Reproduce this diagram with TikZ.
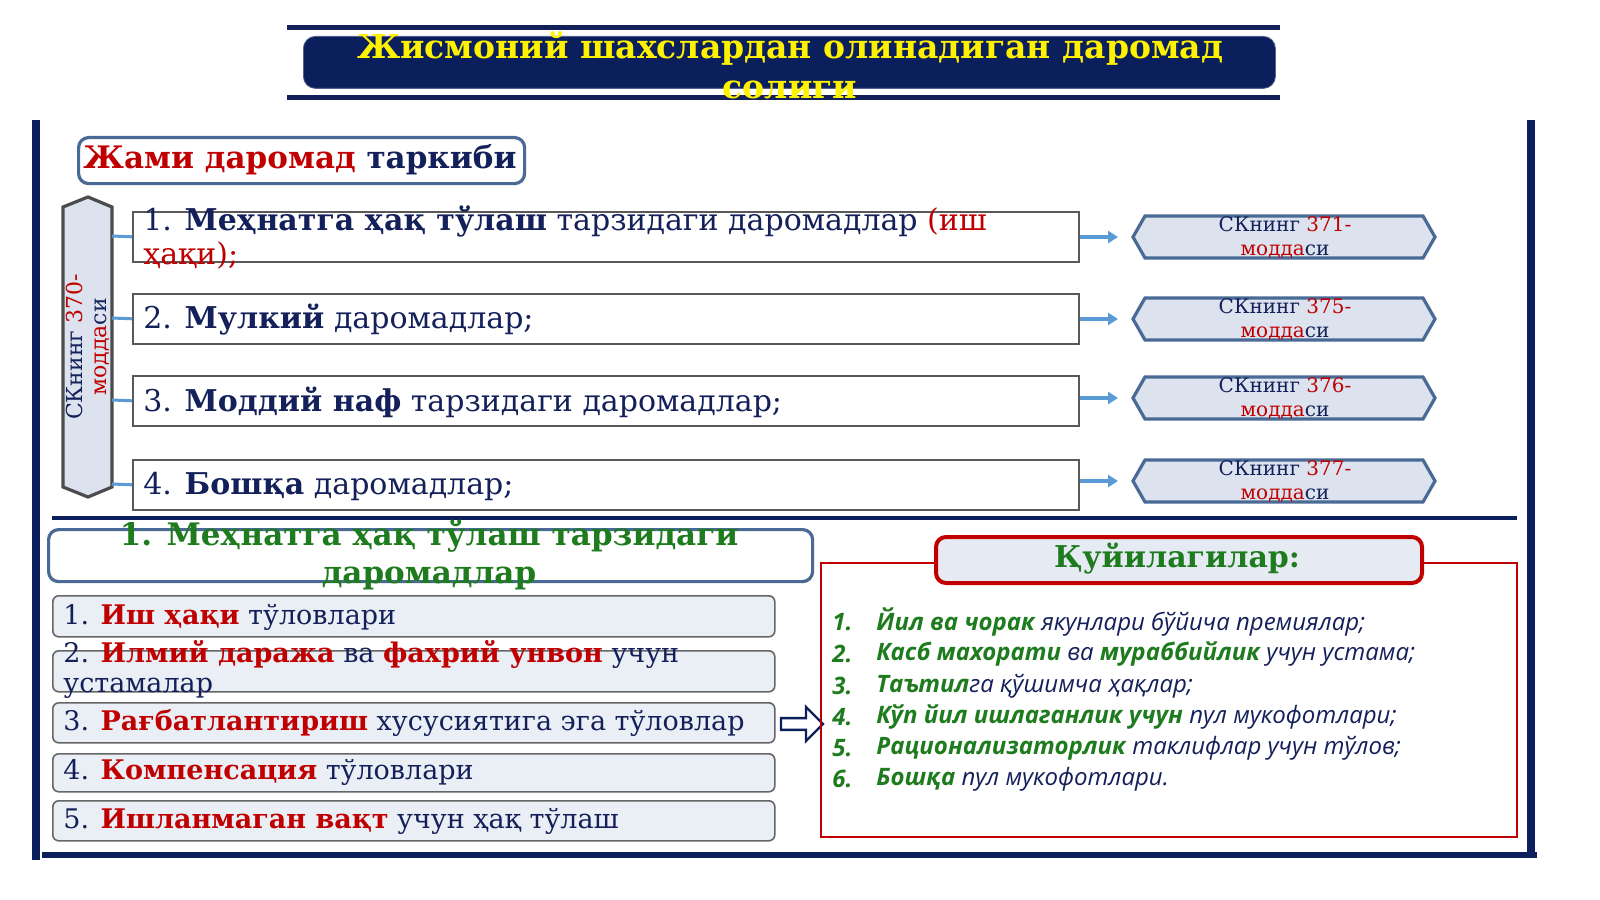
\documentclass[tikz,border=0pt]{standalone}
\usepackage{fontspec}
\setmainfont{DejaVu Serif}
\newfontfamily\listfont{Open Sans}
\usetikzlibrary{shapes.geometric,arrows.meta,shapes.arrows}
\definecolor{navy}{HTML}{0B1F5C}
\definecolor{tnavy}{HTML}{14205A}
\definecolor{rd}{HTML}{C00000}
\definecolor{gr}{HTML}{1E7B1E}
\definecolor{sb}{HTML}{4A6A96}
\definecolor{lb}{HTML}{DCE3EE}
\definecolor{arr}{HTML}{5B9BD5}
\begin{document}
\begin{tikzpicture}[x=0.5pt,y=-0.5pt,
 ibox/.style={draw=gray!70!black,line width=0.8pt,fill=white,anchor=north west},
 itext/.style={anchor=west,font=\fontsize{15}{17}\selectfont,text=tnavy,inner sep=0},
 hexr/.style={draw=sb,line width=1.6pt,fill=lb},
 htext/.style={align=center,font=\fontsize{10}{12}\selectfont,text=tnavy,inner sep=0},
 sarr/.style={-{Triangle[length=5pt,width=6pt]},draw=arr,line width=2pt},
 lbox/.style={draw=gray!80!black,line width=0.8pt,rounded corners=3pt,fill=lb!60},
 ltext/.style={anchor=west,font=\fontsize{13.5}{15}\selectfont,text=tnavy,inner sep=0},
 lst/.style={anchor=west,font=\listfont\itshape\fontsize{12}{14}\selectfont,text=tnavy,inner sep=0},
 bar/.style={draw=navy,line width=4pt}]
\path[use as bounding box,fill=white] (0,0) rectangle (1600,899);
% frame
\draw[draw=tnavy,line width=2.5pt] (287,28) -- (1280,28);
\draw[draw=tnavy,line width=2.5pt] (287,98) -- (1280,98);
\node[draw=navy!70,fill=navy,rounded corners=6pt,minimum width=486pt,minimum height=26pt,anchor=north west,inner sep=0] (title) at (303,36) {};
\node[align=center,text=yellow,font=\bfseries\fontsize{16.5}{20}\selectfont] (tt) at (790,65) {Жисмоний шахслардан олинадиган даромад\\солиги};
\draw[bar] (36,120) -- (36,860);
\draw[bar] (1531,120) -- (1531,858);
\draw[draw=navy,line width=3pt] (42,855) -- (1537,855);
\draw[draw=navy,line width=2pt] (52,518) -- (1517,518);
% jami
\node[draw=sb,line width=1.6pt,rounded corners=5pt,fill=white,minimum width=223pt,minimum height=23pt,anchor=north west,inner sep=0] (jb) at (77,136) {};
\node[font=\bfseries\fontsize{15.5}{18}\selectfont] (jt) at (300,160) {\textcolor{rd}{Жами даромад} \textcolor{tnavy}{таркиби}};
% vertical hexagon
\draw[hexr,draw=gray!60!black,fill=lb] (63,207) -- (88,197) -- (112,207) -- (112,487) -- (88,497) -- (63,487) -- cycle;
\node[htext,rotate=90,font=\fontsize{11}{12}\selectfont] (vh) at (88,347) {СКнинг \textcolor{rd}{370-}\\\textcolor{rd}{модда}си};
% items
\foreach \y/\n in {211/a,293/b,375/c,459/d}{
 \node[ibox,minimum width=473pt,minimum height=25pt,inner sep=0] (b\n) at (132,\y) {};
 \draw[draw=arr,line width=1.5pt] (112,\y+25) -- (b\n.west);
}
\node[itext,align=left,anchor=north west] (t1) at (143,205) {1. \textbf{Меҳнатга ҳақ тўлаш} тарзидаги даромадлар \textcolor{rd}{(иш}\\\textcolor{rd}{ҳақи);}};
\node[itext] (t2) at (143,320) {2. \textbf{Мулкий} даромадлар;};
\node[itext] (t3) at (143,402) {3. \textbf{Моддий наф} тарзидаги даромадлар;};
\node[itext] (t4) at (143,486) {4. \textbf{Бошқа} даромадлар;};
% right hexagons
\foreach \y/\n/\k in {237/a/371,319/b/375,398/c/376,481/d/377}{
 \draw[hexr] (1133,\y) -- (1145,\y-21) -- (1423,\y-21) -- (1435,\y) -- (1423,\y+21) -- (1145,\y+21) -- cycle;
 \node[htext] (h\n) at (1285,\y) {СКнинг \textcolor{rd}{\k-}\\\textcolor{rd}{модда}си};
 \draw[sarr] (b\n.east |- 0,\y) -- (1118,\y);
}
% lower left
\node[draw=sb,line width=1.6pt,rounded corners=5pt,fill=white,minimum width=382pt,minimum height=26pt,anchor=north west,inner sep=0] (hb) at (47,528) {};
\node[align=center,text=gr,font=\bfseries\fontsize{15.5}{19}\selectfont] (ht) at (429,555) {1. Меҳнатга ҳақ тўлаш тарзидаги\\даромадлар};
\foreach \y/\h/\n in {595/41/1,650/41/2,702/40/3,753/38/4,800/40/5}{
 \node[lbox,minimum width=361pt,minimum height=\h*0.5pt,anchor=north west,inner sep=0] (l\n) at (52,\y) {};
}
\node[ltext] at (63,617) {1. \textbf{\textcolor{rd}{Иш ҳақи}} тўловлари};
\node[ltext,align=left,anchor=north west] at (63,640) {2. \textbf{\textcolor{rd}{Илмий даража}} ва \textbf{\textcolor{rd}{фахрий унвон}} учун\\устамалар};
\node[ltext] at (63,723) {3. \textbf{\textcolor{rd}{Рағбатлантириш}} хусусиятига эга тўловлар};
\node[ltext] at (63,772) {4. \textbf{\textcolor{rd}{Компенсация}} тўловлари};
\node[ltext] at (63,821) {5. \textbf{\textcolor{rd}{Ишланмаган вақт}} учун ҳақ тўлаш};
\node[single arrow,draw=navy,line width=1.2pt,fill=white,minimum height=21pt,minimum width=17pt,single arrow head extend=3pt,inner sep=1pt] (ha) at (799,724) {};
% right red box
\node[draw=rd,line width=1pt,minimum width=348pt,minimum height=137pt,anchor=north west,inner sep=0] (rb) at (820,562) {};
\node[draw=rd,line width=2pt,rounded corners=5pt,fill=lb!70,minimum width=243pt,minimum height=23pt,anchor=north west,inner sep=0] (qb) at (934,535) {};
\node[text=gr,font=\bfseries\fontsize{15}{18}\selectfont] (qt) at (1177,559) {Қуйилагилар:};
\foreach \y/\n/\t in {622/1/{\textcolor{gr}{\textbf{Йил ва чорак}} якунлари бўйича премиялар;},
 654/2/{\textcolor{gr}{\textbf{Касб махорати}} ва \textcolor{gr}{\textbf{мураббийлик}} учун устама;},
 686/3/{\textcolor{gr}{\textbf{Таътил}}га қўшимча ҳақлар;},
 717/4/{\textcolor{gr}{\textbf{Кўп йил ишлаганлик учун}} пул мукофотлари;},
 748/5/{\textcolor{gr}{\textbf{Рационализаторлик}} таклифлар учун тўлов;},
 779/6/{\textcolor{gr}{\textbf{Бошқа}} пул мукофотлари.}}{
 \node[lst,text=gr] at (832,\y) {\textbf{\n.}};
 \node[lst] at (876,\y) {\t};
}
\end{tikzpicture}
\end{document}
